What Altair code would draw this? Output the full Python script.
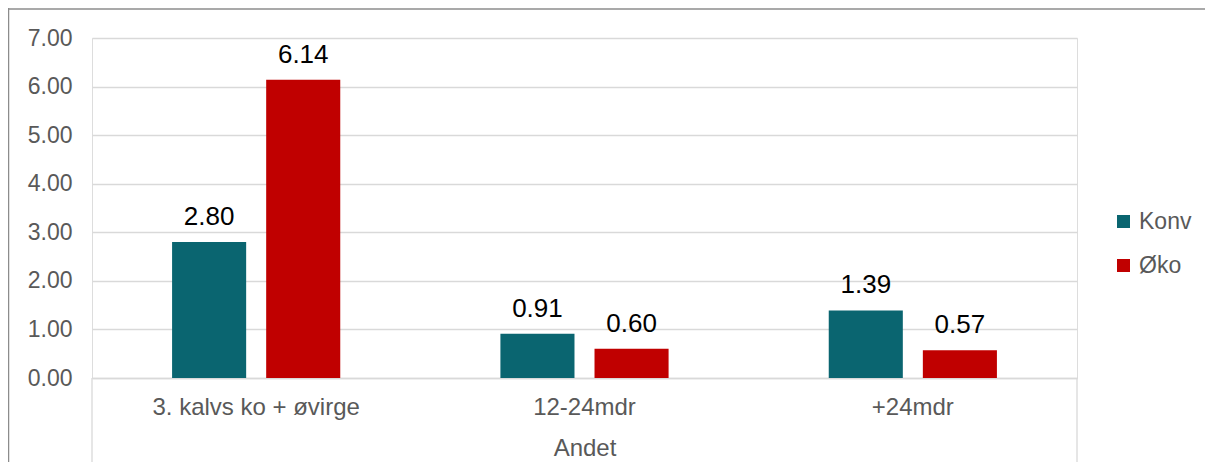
import altair as alt
import pandas as pd

categories = ["3. kalvs ko + øvirge", "12-24mdr", "+24mdr"]
series = ["Konv", "Øko"]
konv = [2.80, 0.91, 1.39]
oko = [6.14, 0.60, 0.57]
y_ticks = [0, 1, 2, 3, 4, 5, 6, 7]
group_label = "Andet"

rows = []
for c, k, o in zip(categories, konv, oko):
    rows.append({"cat": c, "serie": "Konv", "v": k})
    rows.append({"cat": c, "serie": "Øko", "v": o})
df = pd.DataFrame(rows)

W, H = 985, 340
FONT = "Liberation Sans"
GREY = "#595959"
GRID = "#D9D9D9"

x_enc = alt.X("cat:N", sort=categories,
              scale=alt.Scale(paddingInner=0, paddingOuter=0),
              axis=alt.Axis(title=group_label, labelAngle=0, ticks=False,
                            labelFontSize=24, labelColor=GREY, labelFont=FONT,
                            labelLimit=0, labelPadding=17, titleFontSize=24,
                            titleColor=GREY, titleFont=FONT, titleFontWeight="normal",
                            titlePadding=17, domainColor=GRID, domainWidth=1.3,
                            grid=False))
xo_enc = alt.XOffset("serie:N", sort=series,
                     scale=alt.Scale(paddingInner=0.2128, paddingOuter=0.851))
y_enc = alt.Y("v:Q", scale=alt.Scale(domain=[0, 7], nice=False),
              axis=alt.Axis(title=None, values=y_ticks, format=".2f", domain=False,
                            ticks=False, labelFontSize=23, labelColor=GREY,
                            labelFont=FONT, labelPadding=20, gridColor=GRID,
                            gridWidth=1.3))
color_enc = alt.Color("serie:N", sort=series,
                      scale=alt.Scale(domain=series, range=["#0A6570", "#C00000"]),
                      legend=alt.Legend(title=None, orient="none", legendX=1020,
                                        legendY=172, symbolType="square",
                                        symbolSize=169, symbolStrokeWidth=0,
                                        labelFontSize=23, labelColor=GREY,
                                        labelFont=FONT, labelOffset=4,
                                        rowPadding=20, padding=0))

bars = alt.Chart(df).mark_bar().encode(x=x_enc, xOffset=xo_enc, y=y_enc, color=color_enc)
labels = alt.Chart(df).mark_text(baseline="alphabetic", dy=-17, fontSize=26,
                                 font=FONT, color="#000000").encode(
    x=alt.X("cat:N", sort=categories), xOffset=alt.XOffset("serie:N", sort=series),
    y="v:Q", text=alt.Text("v:Q", format=".2f"))

one = alt.Data(values=[{"a": 1}])
sep_left = alt.Chart(one).mark_rule(color=GRID, strokeWidth=1.3).encode(
    x=alt.value(0), y=alt.value(H), y2=alt.value(H + 86))
sep_right = alt.Chart(one).mark_rule(color=GRID, strokeWidth=1.3).encode(
    x=alt.value(W), y=alt.value(H), y2=alt.value(H + 86))
border_top = alt.Chart(one).mark_rule(color="#8C8C8C", strokeWidth=1.5).encode(
    x=alt.value(-84), x2=alt.value(W + 130), y=alt.value(-29))
border_left = alt.Chart(one).mark_rule(color="#8C8C8C", strokeWidth=1.5).encode(
    x=alt.value(-83.5), y=alt.value(-30), y2=alt.value(H + 90))

chart = alt.layer(bars, labels, sep_left, sep_right, border_top, border_left).properties(
    width=W, height=H,
    autosize=alt.AutoSizeParams(type="none"),
    padding={"left": 84, "top": 30, "right": 128, "bottom": 84},
).configure_view(stroke=None).configure(background="white")

chart.save("out.html", embed_options={"renderer": "svg", "actions": False})
